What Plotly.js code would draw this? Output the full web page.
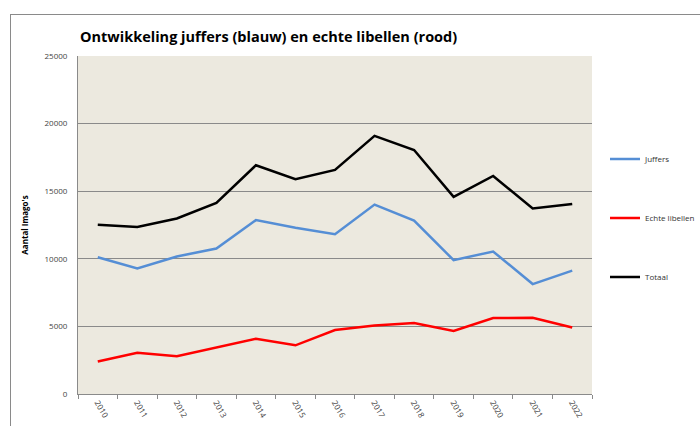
<!DOCTYPE html>
<html>
<head>
<meta charset="utf-8">
<script src="https://cdn.plot.ly/plotly-3.0.1.min.js"></script>
<style>
html,body{margin:0;padding:0;background:#fff;}
#wrap{position:relative;width:700px;height:426px;overflow:hidden;}
#chart{position:absolute;left:0;top:0;width:700px;height:426px;}
#frame{position:absolute;left:10px;top:14px;width:700px;height:420px;border-top:1px solid #8a8a8a;border-left:1px solid #8a8a8a;pointer-events:none;}
</style>
</head>
<body>
<div id="wrap"><div id="chart"></div><div id="frame"></div></div>
<script>
const years = ["2010","2011","2012","2013","2014","2015","2016","2017","2018","2019","2020","2021","2022"];
const juffers = [10120, 9290, 10170, 10760, 12860, 12300, 11820, 14010, 12830, 9900, 10540, 8130, 9130];
const echteLibellen = [2410, 3050, 2800, 3420, 4090, 3600, 4730, 5070, 5250, 4660, 5620, 5640, 4920];
const totaal = [12520, 12350, 12980, 14130, 16920, 15890, 16570, 19090, 18050, 14580, 16130, 13720, 14060];

const traces = [
  {x: years, y: juffers, name: "Juffers", type: "scatter", mode: "lines", legendgroup: "a",
   line: {color: "#558ED5", width: 2.5}},
  {x: years, y: echteLibellen, name: "Echte libellen", type: "scatter", mode: "lines", legendgroup: "b",
   line: {color: "#FF0000", width: 2.5}},
  {x: years, y: totaal, name: "Totaal", type: "scatter", mode: "lines", legendgroup: "c",
   line: {color: "#000000", width: 2.5}}
];

const layout = {
  width: 700, height: 426,
  margin: {l: 78, r: 108, t: 56, b: 32, pad: 0, autoexpand: false},
  paper_bgcolor: "rgba(0,0,0,0)",
  plot_bgcolor: "#ECE9DF",
  showlegend: true,
  title: {
    text: "<b>Ontwikkeling juffers (blauw) en echte libellen (rood)</b>",
    font: {family: "Open Sans, sans-serif", size: 14.5, color: "#000"},
    x: 80/700, xanchor: "left", xref: "container",
    y: 1 - 37/426, yanchor: "middle", yref: "container"
  },
  xaxis: {
    type: "category",
    tickson: "boundaries",
    ticks: "outside", ticklen: 4, tickcolor: "#8a8a8a",
    tickangle: 60,
    tickfont: {family: "Open Sans, sans-serif", size: 8, color: "#444"},
    showline: true, linecolor: "#8a8a8a", linewidth: 1,
    showgrid: false, zeroline: false, automargin: false,
    range: [-0.5, 12.5]
  },
  yaxis: {
    range: [0, 25000],
    tickvals: [0, 5000, 10000, 15000, 20000, 25000],
    ticktext: ["0", "5000", "10000", "15000", "20000", "25000"],
    tickfont: {family: "Open Sans, sans-serif", size: 8, color: "#444"},
    ticks: "", ticklabelstandoff: 8,
    showline: true, linecolor: "#8a8a8a", linewidth: 1,
    showgrid: true, gridcolor: "#8a8a8a", gridwidth: 1,
    zeroline: false, automargin: false,
    title: {text: "<b>Aantal Imago's</b>", standoff: 14,
      font: {family: "Open Sans, sans-serif", size: 8, color: "#000"}}
  },
  legend: {
    x: 1.0253, xanchor: "left", y: 0.738, yanchor: "top",
    font: {family: "Open Sans, sans-serif", size: 8, color: "#333"},
    itemwidth: 30, tracegroupgap: 40, bgcolor: "rgba(0,0,0,0)", borderwidth: 0
  }
};

Plotly.newPlot("chart", traces, layout, {displayModeBar: false, staticPlot: true});
</script>
</body>
</html>
